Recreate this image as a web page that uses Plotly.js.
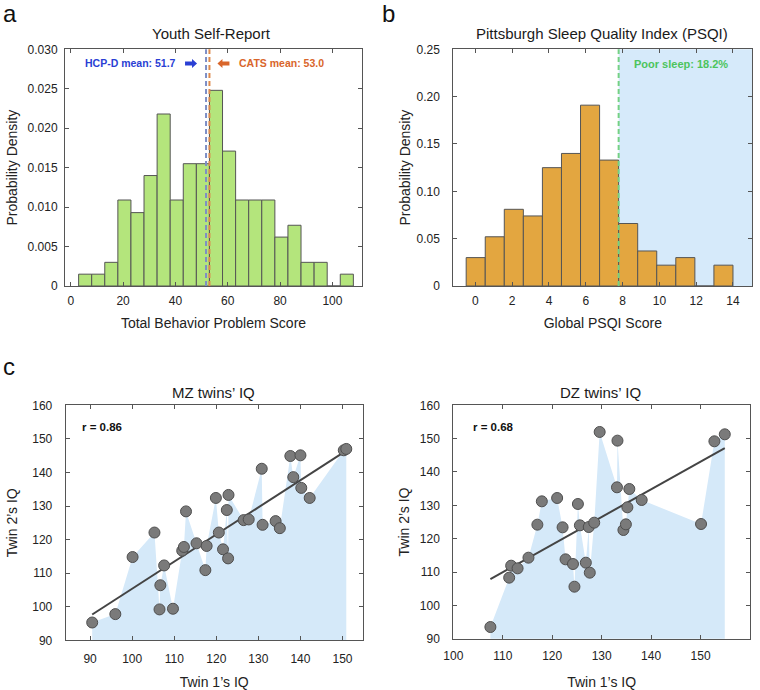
<!DOCTYPE html>
<html>
<head>
<meta charset="utf-8">
<script src="https://cdn.plot.ly/plotly-3.0.1.min.js"></script>
<style>
  html, body { margin: 0; padding: 0; background: #fff; }
  #chart { width: 760px; height: 690px; }
</style>
</head>
<body>
<div id="chart"></div>
<script>
// ---- a: Youth Self-Report histogram (bin edges + probability density) ----
const ysrEdges = [3, 8, 13, 18, 23, 28, 33, 38, 43, 48, 53, 58, 63, 68, 73, 78, 83, 88, 93, 98, 103, 108];
const ysrDensity = [0.0015, 0.0015, 0.0030, 0.0109, 0.0093, 0.0140, 0.0218, 0.0109, 0.0155, 0.0155,
                    0.0248, 0.0171, 0.0109, 0.0109, 0.0109, 0.0062, 0.0077, 0.0030, 0.0030, 0, 0.0015];
const hcpdMean = 51.7;
const catsMean = 53.0;
const ysrXTicks = [0, 20, 40, 60, 80, 100];
const ysrYTicks = [0, 0.005, 0.010, 0.015, 0.020, 0.025, 0.030];
const ysrYTickText = ['0', '0.005', '0.010', '0.015', '0.020', '0.025', '0.030'];

// ---- b: PSQI histogram ----
const psqiEdges = [-0.5, 0.536, 1.571, 2.607, 3.643, 4.679, 5.714, 6.75, 7.786, 8.821, 9.857, 10.893, 11.929, 12.964, 14.0];
const psqiDensity = [0.030, 0.052, 0.081, 0.074, 0.125, 0.140, 0.191, 0.133, 0.066, 0.037, 0.022, 0.030, 0, 0.022];
const poorSleepCut = 7.786;
const poorSleepPct = 18.2;
const psqiXTicks = [0, 2, 4, 6, 8, 10, 12, 14];
const psqiYTicks = [0, 0.05, 0.10, 0.15, 0.20, 0.25];
const psqiYTickText = ['0', '0.05', '0.10', '0.15', '0.20', '0.25'];

// ---- c: twin IQ pairs (sorted by twin 1) ----
const mzTwin1 = [90.5, 96.0, 100.1, 105.3, 106.5, 106.7, 107.6, 109.7, 111.9, 112.3, 112.8, 115.3, 117.4, 117.7,
                 119.9, 120.6, 121.6, 122.5, 122.8, 122.9, 126.5, 127.7, 130.8, 131.0, 134.1, 135.1, 137.6, 138.3,
                 140.0, 140.2, 142.2, 150.3, 150.9];
const mzTwin2 = [95.3, 97.8, 114.8, 122.1, 99.2, 106.4, 112.3, 99.4, 116.7, 117.8, 128.4, 118.9, 110.9, 118.1,
                 132.4, 122.1, 117.1, 128.8, 114.4, 133.3, 125.8, 126.0, 141.1, 124.4, 125.5, 123.4, 144.9, 138.6,
                 145.1, 135.4, 132.4, 146.6, 147.0];
const mzR = 0.86;

const dzTwin1 = [107.5, 111.3, 111.7, 113.0, 115.2, 117.0, 117.9, 121.0, 122.1, 122.7, 124.2, 124.5, 125.2, 125.6,
                 126.8, 127.4, 127.6, 128.5, 129.6, 133.1, 133.2, 134.4, 134.9, 135.2, 135.6, 138.1, 150.1, 152.8, 154.9];
const dzTwin2 = [93.5, 108.3, 111.9, 111.1, 114.3, 124.2, 131.2, 132.2, 123.4, 113.8, 112.4, 105.6, 130.4, 124.0,
                 112.8, 123.5, 109.8, 124.8, 152.0, 135.4, 149.4, 122.6, 124.3, 129.4, 134.9, 131.6, 124.4, 149.2, 151.3];
const dzR = 0.68;
const iqYTicks = [90, 100, 110, 120, 130, 140, 150, 160];
const mzXTicks = [90, 100, 110, 120, 130, 140, 150];
const dzXTicks = [100, 110, 120, 130, 140, 150, 160];

// ---- helpers ----
const FONT = 'Liberation Sans, Arial, Helvetica, sans-serif';
const W = 760, H = 690;
const px = v => v / W;            // horizontal pixel -> paper
const py = v => 1 - v / H;        // vertical pixel (from top) -> paper

function binCenters(edges) { return edges.slice(0, -1).map((e, i) => (e + edges[i + 1]) / 2); }
function binWidths(edges) { return edges.slice(0, -1).map((e, i) => edges[i + 1] - e); }

function fitLine(xs, ys) {
  const n = xs.length;
  const mx = xs.reduce((a, b) => a + b, 0) / n;
  const my = ys.reduce((a, b) => a + b, 0) / n;
  let sxy = 0, sxx = 0;
  for (let i = 0; i < n; i++) { sxy += (xs[i] - mx) * (ys[i] - my); sxx += (xs[i] - mx) ** 2; }
  const b = sxy / sxx, a = my - b * mx;
  const x0 = Math.min(...xs), x1 = Math.max(...xs);
  return { x: [x0, x1], y: [a + b * x0, a + b * x1] };
}

const barLine = { color: '#555555', width: 1 };
const traces = [];

traces.push({
  type: 'bar', x: binCenters(ysrEdges), y: ysrDensity, width: binWidths(ysrEdges),
  marker: { color: '#b4e57c', line: barLine }, xaxis: 'x', yaxis: 'y', hoverinfo: 'skip'
});
traces.push({
  type: 'bar', x: binCenters(psqiEdges), y: psqiDensity, width: binWidths(psqiEdges),
  marker: { color: '#e3a640', line: barLine }, xaxis: 'x2', yaxis: 'y2', hoverinfo: 'skip'
});

function twinTraces(xs, ys, xa, ya) {
  const fit = fitLine(xs, ys);
  return [
    { type: 'scatter', mode: 'lines', x: xs, y: ys, fill: 'tozeroy', fillcolor: '#d5e9f9',
      line: { width: 0, color: 'rgba(0,0,0,0)' }, xaxis: xa, yaxis: ya, hoverinfo: 'skip' },
    { type: 'scatter', mode: 'lines', x: fit.x, y: fit.y, line: { color: '#444444', width: 2 },
      xaxis: xa, yaxis: ya, hoverinfo: 'skip' },
    { type: 'scatter', mode: 'markers', x: xs, y: ys,
      marker: { size: 11, color: '#7a7a7a', line: { color: '#4f4f4f', width: 1 } },
      xaxis: xa, yaxis: ya }
  ];
}
traces.push(...twinTraces(mzTwin1, mzTwin2, 'x3', 'y3'));
traces.push(...twinTraces(dzTwin1, dzTwin2, 'x4', 'y4'));

function axis(domain, range, tickvals, ticktext, title, standoff, extra) {
  const t = { text: title, font: { family: FONT, size: 14, color: '#222' } };
  if (standoff !== null) t.standoff = standoff;
  return Object.assign({
    domain: domain, range: range, tickvals: tickvals, ticktext: ticktext,
    showline: true, mirror: 'ticks', linecolor: '#555555', linewidth: 1,
    ticks: 'inside', ticklen: 4, tickcolor: '#555555', tickwidth: 1,
    showgrid: false, zeroline: false, fixedrange: true,
    tickfont: { family: FONT, size: 12, color: '#222' },
    title: t
  }, extra || {});
}

const titleFont = { family: FONT, size: 15, color: '#1a1a1a' };
const yTopDom = [py(286), py(49.3)];
const layout = {
  width: W, height: H, margin: { l: 0, r: 0, t: 0, b: 0 },
  paper_bgcolor: '#ffffff', plot_bgcolor: 'rgba(0,0,0,0)',
  showlegend: false, bargap: 0,
  font: { family: FONT, color: '#222' },
  xaxis: axis([px(65), px(362)], [-2.2, 111.3], ysrXTicks, ysrXTicks.map(String), 'Total Behavior Problem Score', 10,
              { anchor: 'y', ticklabelstandoff: 4 }),
  yaxis: axis(yTopDom, [0, 0.030], ysrYTicks, ysrYTickText, 'Probability Density', 6,
              { anchor: 'x', ticklabelstandoff: 4 }),
  xaxis2: axis([px(453.3), px(752.3)], [-1.2, 15.05], psqiXTicks, psqiXTicks.map(String), 'Global PSQI Score', 10,
              { anchor: 'y2', ticklabelstandoff: 4 }),
  yaxis2: axis(yTopDom, [0, 0.25], psqiYTicks, psqiYTickText, 'Probability Density', 2,
              { anchor: 'x2', ticklabelstandoff: 10 }),
  xaxis3: axis([px(65.7), px(362.7)], [84.2, 154.8], mzXTicks, mzXTicks.map(String), 'Twin 1\u2019s IQ', null,
              { anchor: 'y3', ticklabelstandoff: 7 }),
  yaxis3: axis([py(640.3), py(405.3)], [90, 160], iqYTicks, iqYTicks.map(String), 'Twin 2\u2019s IQ', 11,
              { anchor: 'x3', ticklabelstandoff: 10 }),
  xaxis4: axis([px(453.3), px(750)], [100, 160], dzXTicks, dzXTicks.map(String), 'Twin 1\u2019s IQ', null,
              { anchor: 'y4', ticklabelstandoff: 6 }),
  yaxis4: axis([py(638.7), py(405.3)], [90, 160], iqYTicks, iqYTicks.map(String), 'Twin 2\u2019s IQ', 6,
              { anchor: 'x4', ticklabelstandoff: 10 }),
  shapes: [
    // poor-sleep zone and cut-off
    { type: 'rect', xref: 'x2', yref: 'y2 domain', x0: poorSleepCut, x1: 15.05, y0: 0, y1: 1,
      fillcolor: '#d6eafa', line: { width: 0 }, layer: 'below' },
    { type: 'line', xref: 'x2', yref: 'y2 domain', x0: poorSleepCut, x1: poorSleepCut, y0: 0, y1: 1,
      line: { color: '#74d184', width: 2, dash: '5px,3px' } },
    // sample means
    { type: 'line', xref: 'x', yref: 'y domain', x0: hcpdMean, x1: hcpdMean, y0: 0, y1: 1,
      line: { color: '#7d8ec6', width: 2, dash: '5px,3px' } },
    { type: 'line', xref: 'x', yref: 'y domain', x0: catsMean, x1: catsMean, y0: 0, y1: 1,
      line: { color: '#de8a4c', width: 2, dash: '5px,3px' } },
    // block arrows pointing at the mean lines
    { type: 'path', xref: 'x', yref: 'paper', xsizemode: 'pixel', ysizemode: 'pixel',
      xanchor: hcpdMean, yanchor: py(63.5),
      path: 'M -21,-2 L -14,-2 L -14,-4.5 L -9,0 L -14,4.5 L -14,2 L -21,2 Z',
      fillcolor: '#2a3fd4', line: { width: 0 } },
    { type: 'path', xref: 'x', yref: 'paper', xsizemode: 'pixel', ysizemode: 'pixel',
      xanchor: catsMean, yanchor: py(63.5),
      path: 'M 8,0 L 13,-4.5 L 13,-2 L 20,-2 L 20,2 L 13,2 L 13,4.5 Z',
      fillcolor: '#d9662b', line: { width: 0 } }
  ],
  annotations: [
    // panel letters
    { text: 'a', xref: 'paper', yref: 'paper', x: px(1), y: py(13), xanchor: 'left', yanchor: 'middle',
      showarrow: false, font: { family: FONT, size: 24, color: '#111' } },
    { text: 'b', xref: 'paper', yref: 'paper', x: px(380), y: py(13), xanchor: 'left', yanchor: 'middle',
      showarrow: false, font: { family: FONT, size: 24, color: '#111' } },
    { text: 'c', xref: 'paper', yref: 'paper', x: px(1), y: py(366), xanchor: 'left', yanchor: 'middle',
      showarrow: false, font: { family: FONT, size: 24, color: '#111' } },
    // panel titles
    { text: 'Youth Self-Report', xref: 'paper', yref: 'paper', x: px(212), y: py(34),
      xanchor: 'center', yanchor: 'middle', showarrow: false, font: titleFont },
    { text: 'Pittsburgh Sleep Quality Index (PSQI)', xref: 'paper', yref: 'paper', x: px(602), y: py(34),
      xanchor: 'center', yanchor: 'middle', showarrow: false, font: titleFont },
    { text: 'MZ twins\u2019 IQ', xref: 'paper', yref: 'paper', x: px(213), y: py(392),
      xanchor: 'center', yanchor: 'middle', showarrow: false, font: titleFont },
    { text: 'DZ twins\u2019 IQ', xref: 'paper', yref: 'paper', x: px(600), y: py(392),
      xanchor: 'center', yanchor: 'middle', showarrow: false, font: titleFont },
    // mean labels
    { text: '<b>HCP-D mean: ' + hcpdMean.toFixed(1) + '</b>', xref: 'x', yref: 'paper', x: hcpdMean, xshift: -28,
      y: py(63.5), xanchor: 'right', yanchor: 'middle', showarrow: false,
      font: { family: FONT, size: 10.5, color: '#2a3fd4' } },
    { text: '<b>CATS mean: ' + catsMean.toFixed(1) + '</b>', xref: 'x', yref: 'paper', x: catsMean, xshift: 28,
      y: py(63.5), xanchor: 'left', yanchor: 'middle', showarrow: false,
      font: { family: FONT, size: 10.5, color: '#d9662b' } },
    { text: '<b>Poor sleep: ' + poorSleepPct.toFixed(1) + '%</b>', xref: 'paper', yref: 'paper', x: px(681), y: py(64),
      xanchor: 'center', yanchor: 'middle', showarrow: false, font: { family: FONT, size: 11, color: '#4cc45c' } },
    // correlations
    { text: '<b>r = ' + mzR.toFixed(2) + '</b>', xref: 'paper', yref: 'paper', x: px(80), y: py(427),
      xanchor: 'left', yanchor: 'middle', showarrow: false, font: { family: FONT, size: 11.5, color: '#111' } },
    { text: '<b>r = ' + dzR.toFixed(2) + '</b>', xref: 'paper', yref: 'paper', x: px(471.5), y: py(427),
      xanchor: 'left', yanchor: 'middle', showarrow: false, font: { family: FONT, size: 11.5, color: '#111' } }
  ]
};

Plotly.newPlot('chart', traces, layout, { staticPlot: true, displayModeBar: false });
</script>
</body>
</html>
